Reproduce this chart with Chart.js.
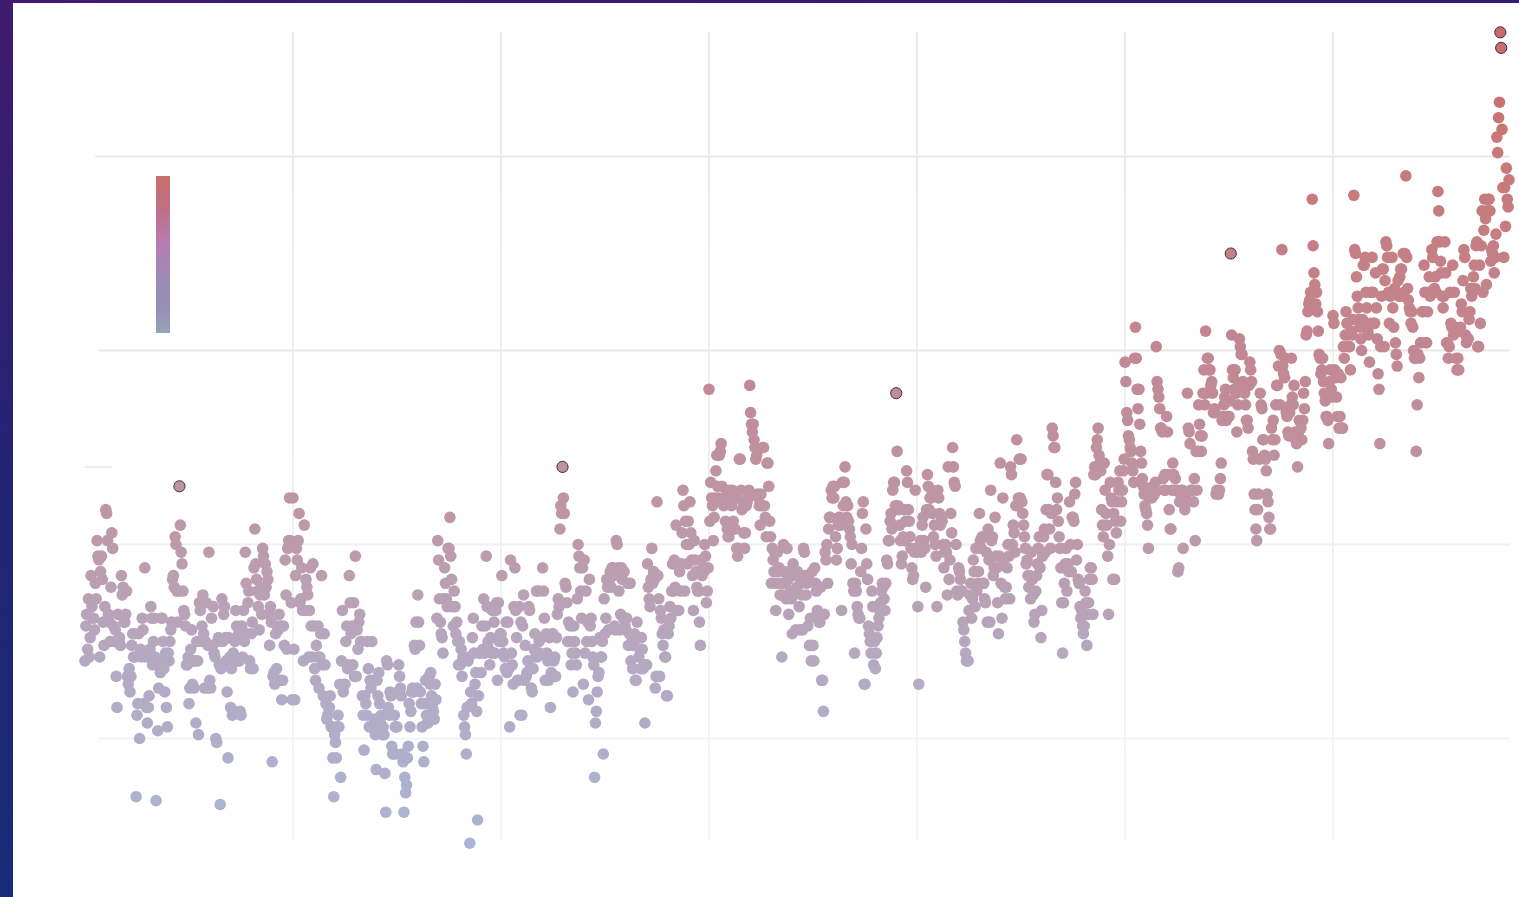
<!DOCTYPE html>
<html>
<head>
<meta charset="utf-8">
<title>Monthly temperature anomaly</title>
<script src="https://cdn.jsdelivr.net/npm/chart.js@4"></script>
<style>
html, body { margin: 0; height: 100%; overflow: hidden; }
body { background: linear-gradient(172deg, #3f1a70 0%, #232373 45%, #10317a 100%); }
#panel { position: absolute; left: 13px; top: 3px; width: 1506px; height: 894px; background: #fff; }
#colorbar { position: absolute; left: 143px; top: 173px; width: 14px; height: 157px;
  background: linear-gradient(#c76f6c 0%, #bf7088 22%, #b87bb2 42%, #9a8cb8 68%, #9590b6 85%, #95a5b8 100%); }
canvas { position: absolute; left: 0; top: 0; }
</style>
</head>
<body>
<div id="panel">
  <canvas id="chart" width="1506" height="894"></canvas>
  <div id="colorbar"></div>
</div>
<script>
// anomaly in hundredths of a degree, one row per year, Jan..Dec
var y1880s = [
  [-30,-21,-18,-27,-14,-29,-24,-8,-16,-19,-19,-22],
  [-10,-14,1,-3,-4,-29,-7,-3,-9,-20,-26,-16],
  [9,8,1,-18,-20,-25,-11,3,-1,-21,-25,-22],
  [-34,-42,-18,-25,-24,-26,-8,-13,-11,-20,-20,-18],
  [-12,-34,-36,-32,-38,-34,-26,-23,-29,-23,-29,-65],
  [-44,-41,-23,-50,-27,-29,-19,-22,-41,-6,-29,-42],
  [-46,-42,-39,-27,-16,-19,-31,-25,-19,-29,-66,-31],
  [-48,-37,-30,-33,-19,-19,-25,-32,-38,-28,-42,-47],
  [-28,-30,-25,-22,-20,-9,-8,-11,2,0,-12,-20],
  [-12,15,5,-2,-5,-12,-17,-18,-21,-31,-31,-29]
];
var y1890s = [
  [-41,-37,-27,-22,-36,-30,-37,-30,-46,-25,-30,-49],
  [-15,-17,-25,-21,-13,-23,-37,-25,-15,-37,-26,-2],
  [-35,-37,-19,-26,-16,-28,-29,-50,-51,-25,-24,-31],
  [-67,-32,-14,-25,-18,-16,-24,-30,-38,-55,-24,-29],
  [-42,-32,-44,-28,-43,-25,-17,-21,-30,-23,-30,-43],
  [-44,-21,-29,-17,-25,-2,-10,-23,-15,-12,-30,-32],
  [-23,-20,-32,-6,4,-5,-9,-12,-16,-22,-13,-11],
  [-18,-1,-3,-13,-5,-11,-7,-9,-18,-26,-16,-20],
  [-56,-34,-33,-36,-23,-32,-21,-22,-18,-35,-21,-40],
  [-35,-21,-26,-4,-13,-27,-1,1,12,1,-15,-40]
];
var y1900s = [
  [12,-27,-40,-8,-1,-4,1,8,-15,-14,-6,-17],
  [-30,5,-17,-9,-11,-13,-29,-17,-6,-21,-29,-5],
  [-21,-32,-35,-26,-29,-21,-37,-29,-23,-8,-31,-39],
  [-23,-31,-41,-45,-44,-42,-42,-39,-47,-47,-55,-65],
  [-49,-51,-55,-47,-44,-47,-36,-60,-30,-17,-38,-36],
  [-36,-25,-21,-32,-31,-8,-15,-23,-21,-31,-15,-34],
  [-3,-34,-22,-27,-20,-18,-25,-25,-39,-44,-53,-39],
  [-41,-44,-25,-32,-47,-35,-37,-25,-47,-35,-45,-49],
  [-58,-35,-39,-33,-41,-46,-44,-49,-47,-49,-59,-69],
  [-30,-31,-42,-44,-38,-39,-52,-54,-54,-44,-47,-54]
];
var y1910s = [
  [-47,-38,-31,-34,-37,-39,-54,-56,-69,-60,-64,-62],
  [-55,-52,-41,-47,-43,-38,-37,-38,-26,-27,-20,-37],
  [-13,-20,-26,-38,-41,-47,-52,-56,-41,-35,-44,-46],
  [-46,-34,-36,-33,-39,-42,-43,-45,-36,-40,-19,1],
  [-4,-14,-20,-23,-24,-28,-14,-6,-10,-14,-16,-1],
  [-1,7,-3,-9,-16,-21,-12,-16,-23,-20,-25,-31],
  [-25,-31,-27,-34,-29,-44,-47,-49,-54,-42,-30,-29],
  [-77,-38,-41,-24,-19,-28,-36,-33,-43,-71,-39,-28],
  [-28,-33,-21,-27,-14,-28,-21,-3,-16,-25,-27,-31],
  [-24,-28,-17,-16,-20,-28,-17,-15,-35,-15,-25,-23]
];
var y1920s = [
  [-23,-8,-25,-28,-29,-32,-20,-33,-20,-32,-47,-4],
  [-28,-31,-36,-16,-6,-17,-24,-35,-35,-16,-44,-20],
  [-44,-21,-13,-35,-26,-34,-33,-30,-16,-17,-32,-37],
  [-38,-32,-27,-23,-29,-12,-29,-12,-25,-28,-24,-24],
  [-6,-12,-19,-35,-23,-28,-30,-35,-24,-42,-33,-23],
  [-23,-30,-29,-34,-24,-18,-14,-16,4,10,8,20],
  [12,8,-10,-11,-15,-25,-20,-25,-21,-31,-28,-38],
  [-21,-25,-28,-31,-14,0,-3,-6,-12,-19,-6,-36],
  [-4,-28,-12,-25,-20,-40,-9,-21,-19,-25,-29,-31],
  [-60,-46,-43,-38,-34,-33,-24,-29,-29,-25,-54,-14]
];
var y1930s = [
  [-23,-19,-9,-11,-22,-10,-7,-11,-6,-6,-8,-21],
  [-22,1,0,-6,-12,-22,-18,-6,-9,-19,-7,-21],
  [-22,-19,-10,-26,-23,-10,-30,-25,-32,-26,-23,-35],
  [-35,-20,-24,-29,-27,-32,-24,-27,-32,-31,-46,-31],
  [-31,-5,-11,-14,-16,-9,-1,-10,-7,-9,-37,-34],
  [11,-8,-14,-34,-17,-19,-23,-26,-22,-29,-29,-39],
  [-39,-23,-21,-16,-19,-12,-5,-12,-4,-11,5,-17],
  [-5,-17,-7,-12,-5,3,14,10,-12,6,0,-5],
  [6,0,11,3,-4,-8,-17,1,-4,-7,-11,-12],
  [-12,-20,-26,-4,-8,-6,-7,0,-3,-15,-12,-6]
];
var y1940s = [
  [40,6,16,12,10,1,7,12,19,23,15,12],
  [23,24,26,15,11,10,12,6,14,4,2,2],
  [14,12,10,14,6,4,4,12,-1,-3,-1,22],
  [22,14,9,11,3,-1,3,10,11,12,14,41],
  [34,31,29,31,27,25,22,23,13,12,10,5],
  [13,10,25,25,10,7,2,21,21,15,6,2],
  [-10,-1,-4,-7,-2,-17,-10,-2,-7,-6,-13,-10],
  [-29,-13,0,-7,-10,-14,-1,-9,-18,-7,-12,-14],
  [-23,-5,-13,-8,-22,-11,-7,-8,-16,-22,-10,-13],
  [-22,-1,-2,-8,-13,-10,-21,-8,-26,-19,-30,-7]
];
var y1950s = [
  [-26,-30,-6,-10,-12,-17,-18,-20,-20,-11,-35,-35],
  [-43,-18,-2,-4,0,-10,4,7,7,14,12,15],
  [12,15,2,-4,-1,5,7,7,5,-17,16,10],
  [16,20,11,7,10,6,4,2,-5,0,-10,-12],
  [-28,-10,-12,-16,-18,-19,-19,-7,-1,8,11,-36],
  [-36,4,-5,-9,-21,-23,-25,-28,-12,-16,-31,-25],
  [-32,-28,-24,-21,-19,-17,-15,-12,-10,-11,-14,-17],
  [-10,-4,-5,1,1,6,8,4,14,16,16,10],
  [39,24,10,9,5,1,-5,-3,2,9,1,6],
  [19,16,9,6,2,-1,-6,-9,-8,-2,14,-1]
];
var y1960s = [
  [-2,-16,-36,-1,1,-2,5,7,1,-1,-11,9],
  [18,15,9,12,12,14,8,2,5,0,-3,-16],
  [14,12,8,5,7,6,0,-6,-2,0,-2,-13],
  [20,-9,-4,8,3,25,20,16,15,0,-12,-13],
  [-6,-7,-9,-12,-12,-20,-22,-25,-28,-30,-30,-30],
  [-17,-13,-10,-19,-14,-4,-7,-16,-1,-12,-10,-7],
  [8,1,-1,2,-10,-10,-14,-15,-2,-20,4,-4],
  [-20,14,1,2,-8,-6,7,-3,-6,-15,-23,-3],
  [21,-10,-19,12,-4,-11,-14,-11,-6,0,-3,-14],
  [20,18,0,5,3,-2,10,27,10,12,22,12]
];
var y1970s = [
  [22,11,8,5,2,-1,-5,-4,-8,-11,-8,-14],
  [-2,-9,-13,-20,-18,-12,-8,-5,-1,2,-6,-24],
  [-17,-3,2,4,-2,9,18,18,9,4,-1,8],
  [30,28,25,25,16,9,12,6,2,-1,-6,-15],
  [-28,-15,-10,-5,-1,-12,-5,-7,11,0,-7,7],
  [7,6,13,16,-4,0,-9,-10,-16,-19,-17,-21],
  [-23,-21,-12,-15,-26,-18,-15,-9,-6,-6,-9,-18],
  [18,20,18,25,27,30,23,21,19,9,5,2],
  [21,14,8,5,-3,-18,0,16,12,11,-9,8],
  [-9,6,3,11,16,14,19,6,11,14,19,22]
];
var y1980s = [
  [47,42,34,32,28,27,25,24,21,19,16,48],
  [56,48,40,35,40,31,24,21,17,15,13,10],
  [9,8,5,-1,12,14,14,12,15,14,13,16],
  [51,42,40,38,35,30,30,29,17,14,18,14],
  [33,29,18,9,4,4,14,21,18,14,17,14],
  [14,-7,-6,11,13,14,14,-1,11,9,12,11],
  [39,30,29,26,14,14,14,11,17,1,24,14],
  [24,36,31,28,24,28,39,45,36,55,39,48],
  [48,45,45,41,42,39,34,35,34,13,14,13],
  [13,14,17,21,32,33,36,38,40,32,33,33]
];
var y1990s = [
  [33,37,75,54,45,43,40,45,39,29,36,41],
  [53,51,49,49,42,41,39,36,32,32,30,41],
  [47,45,42,24,22,13,9,4,1,9,13,22],
  [39,36,35,27,27,23,22,19,13,11,7,4],
  [4,30,27,32,23,27,36,41,41,46,50,36],
  [49,76,46,44,43,48,34,33,29,28,34,36],
  [48,38,36,41,29,27,26,20,29,32,27,30],
  [27,32,39,35,42,54,55,60,62,63,65,62],
  [89,77,70,67,62,65,60,55,49,48,44,45],
  [48,42,39,37,33,33,32,26,42,45,40,38]
];
var y2000s = [
  [59,57,45,43,38,33,44,30,33,43,30,30],
  [51,48,54,60,57,54,51,51,45,55,54,58],
  [90,76,75,69,64,61,58,56,53,50,58,72],
  [72,74,65,61,55,54,47,57,65,74,65,57],
  [57,70,61,53,44,40,26,51,64,71,71,51],
  [68,78,77,74,65,57,64,65,74,61,56,66],
  [52,49,46,68,64,69,71,71,64,75,65,75],
  [95,74,66,63,61,60,57,60,56,50,48,48],
  [24,36,49,43,48,52,52,60,60,72,65,52],
  [52,60,65,69,64,65,76,74,65,66,69,65]
];
var y2010s = [
  [78,91,86,78,73,70,64,61,64,78,70,52],
  [52,48,51,65,57,56,72,54,65,56,48,45],
  [48,45,55,56,62,60,68,76,74,54,52,53],
  [53,58,60,66,64,65,69,72,66,77,78,51],
  [51,72,57,77,86,65,81,89,84,67,86,89],
  [89,86,73,76,75,77,70,74,80,105,101,110],
  [114,132,128,107,92,74,92,82,97,89,87,94]
];
var decades = [y1880s, y1890s, y1900s, y1910s, y1920s, y1930s, y1940s, y1950s, y1960s, y1970s, y1980s, y1990s, y2000s, y2010s];
var firstYear = 1880;

// months that set a new record, ringed in the chart
var recordYears = [1889, 1925, 1958, 1990, 2016, 2016];
var recordMonths = [1, 11, 0, 2, 1, 2];

var gridYears = [1900, 1920, 1940, 1960, 1980, 2000];
var ruleValues = [1, 0.5, 0, -0.5, 0.2];
var ruleFrom = [1881.0, 1881.3, 1881.2, 1881.3, 1880.0];
var ruleTo = [2017, 2017, 2017, 2017, 1882.6];
var ruleColors = ['#e8e8e8', '#e8e8e8', '#f0f0f0', '#f4f4f4', '#ececec'];

var stopValues = [-0.77, -0.3, 0, 0.5, 1.0, 1.32];
var stopColors = [[170, 181, 213], [181, 169, 194], [189, 154, 170], [194, 135, 146], [200, 120, 120], [201, 107, 107]];

function colorFor(v) {
  var i = 0;
  while (i < stopValues.length - 2 && v > stopValues[i + 1]) i++;
  var t = (v - stopValues[i]) / (stopValues[i + 1] - stopValues[i]);
  t = Math.max(0, Math.min(1, t));
  var a = stopColors[i], b = stopColors[i + 1];
  return 'rgb(' + Math.round(a[0] + (b[0] - a[0]) * t) + ',' + Math.round(a[1] + (b[1] - a[1]) * t) + ',' + Math.round(a[2] + (b[2] - a[2]) * t) + ')';
}

var points = [];
var year = firstYear;
decades.forEach(function (rows) {
  rows.forEach(function (row) {
    row.forEach(function (val, m) {
      var rec = false;
      for (var r = 0; r < recordYears.length; r++) {
        if (recordYears[r] == year && recordMonths[r] == m) rec = true;
      }
      points.push({ x: year + m / 12, y: val / 100, rec: rec });
    });
    year++;
  });
});

var datasets = [];
ruleValues.forEach(function (v, i) {
  datasets.push({
    data: [{ x: ruleFrom[i], y: v }, { x: ruleTo[i], y: v }],
    showLine: true, pointRadius: 0, borderColor: ruleColors[i], borderWidth: 2, order: 5
  });
});
datasets.push({
  data: points,
  order: 1,
  clip: false,
  pointRadius: function (c) { return c.raw && c.raw.rec ? 5.6 : 5.8; },
  pointBorderWidth: function (c) { return c.raw && c.raw.rec ? 1 : 0; },
  pointBorderColor: '#3a3040',
  pointBackgroundColor: function (c) { return c.raw ? colorFor(c.raw.y) : '#999'; }
});

var canvas = document.getElementById('chart');
var fade = canvas.getContext('2d').createLinearGradient(0, 29, 0, 837);
fade.addColorStop(0, '#e9e9e9');
fade.addColorStop(1, '#f6f6f6');

new Chart(canvas, {
  type: 'scatter',
  data: { datasets: datasets },
  options: {
    responsive: false,
    animation: false,
    layout: { autoPadding: false, padding: { left: 0, right: 0, top: 29, bottom: 57 } },
    plugins: { legend: { display: false }, tooltip: { enabled: false } },
    scales: {
      x: {
        min: 1873.08,
        max: 2017.88,
        afterBuildTicks: function (scale) {
          scale.ticks = gridYears.map(function (g) { return { value: g }; });
        },
        border: { display: false },
        grid: { color: fade, lineWidth: 2, drawTicks: false },
        ticks: { display: false }
      },
      y: {
        display: false,
        min: -0.7616,
        max: 1.3209
      }
    }
  }
});
</script>
</body>
</html>
